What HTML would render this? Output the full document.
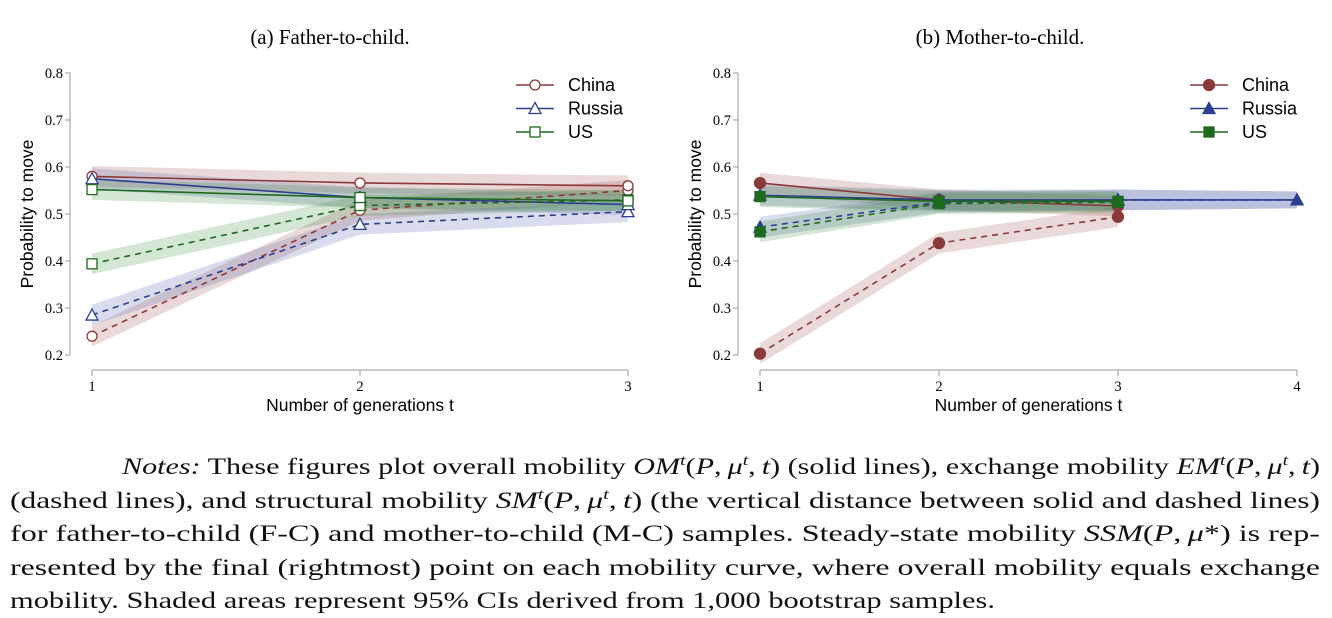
<!DOCTYPE html>
<html><head><meta charset="utf-8">
<style>
body{margin:0;width:1332px;height:616px;background:#fff;overflow:hidden;position:relative;font-family:"Liberation Serif",serif}
#notes{position:absolute;left:10px;top:450px;width:1310px;font-size:23px;color:#111}
#notes .ln{height:33.5px;line-height:33.5px;white-space:nowrap;position:relative}
#notes .ln span.in{display:inline-block;transform-origin:0 50%;white-space:nowrap}
#notes i{font-style:italic}
#notes sup{font-size:15px;line-height:0;vertical-align:9px}
svg{position:absolute;left:0;top:0}
</style></head><body>
<svg id="chart" width="1332" height="440"></svg>
<div id="notes">
<div class="ln" data-x="112" data-w="1310"><span class="in"><i>Notes:</i> These figures plot overall mobility <i>OM<sup>t</sup></i>(<i>P</i>,&#8239;<i>μ<sup>t</sup></i>,&#8239;<i>t</i>) (solid lines), exchange mobility <i>EM<sup>t</sup></i>(<i>P</i>,&#8239;<i>μ<sup>t</sup></i>,&#8239;<i>t</i>)</span></div>
<div class="ln" data-x="0" data-w="1310"><span class="in">(dashed lines), and structural mobility <i>SM<sup>t</sup></i>(<i>P</i>,&#8239;<i>μ<sup>t</sup></i>,&#8239;<i>t</i>) (the vertical distance between solid and dashed lines)</span></div>
<div class="ln" data-x="0" data-w="1310"><span class="in">for father-to-child (F-C) and mother-to-child (M-C) samples. Steady-state mobility <i>SSM</i>(<i>P</i>,&#8239;<i>μ</i>*) is rep-</span></div>
<div class="ln" data-x="0" data-w="1310"><span class="in">resented by the final (rightmost) point on each mobility curve, where overall mobility equals exchange</span></div>
<div class="ln" data-x="0" data-w="985"><span class="in">mobility. Shaded areas represent 95% CIs derived from 1,000 bootstrap samples.</span></div>
</div>
<script>
document.querySelectorAll('#notes .ln').forEach(l=>{
  const s=l.querySelector('.in');const x=+l.dataset.x, w=+l.dataset.w;
  const nat=s.getBoundingClientRect().width;
  s.style.marginLeft=x+'px';
  s.style.transform='scaleX('+((w-x)/nat)+')';
});
const yTicks=[0.2,0.3,0.4,0.5,0.6,0.7,0.8];
const countries=["China","Russia","US"];
// Panel A: father-to-child
const fcGens=[1,2,3];
const fcChinaOM=[0.580,0.566,0.560], fcChinaEM=[0.240,0.508,0.550];
const fcRussiaOM=[0.575,0.535,0.520], fcRussiaEM=[0.285,0.478,0.505];
const fcUSOM=[0.552,0.535,0.528], fcUSEM=[0.394,0.518,0.530];
// Panel B: mother-to-child
const mcGensChina=[1,2,3], mcGensRussia=[1,2,3,4], mcGensUS=[1,2,3];
const mcChinaOM=[0.566,0.530,0.517], mcChinaEM=[0.203,0.438,0.494];
const mcRussiaOM=[0.540,0.530,0.530,0.530], mcRussiaEM=[0.472,0.525,0.530,0.530];
const mcUSOM=[0.537,0.527,0.527], mcUSEM=[0.462,0.522,0.525];
const ciHalf=[0.022,0.022,0.022,0.018];

const colors={China:"#8b3a3a",Russia:"#2c3e8f",US:"#1e6b1e"};
const fills={China:"rgba(160,80,80,0.22)",Russia:"rgba(80,95,170,0.22)",US:"rgba(60,140,60,0.22)"};
const svg=document.getElementById('chart');
const NS="http://www.w3.org/2000/svg";
function mk(tag,attrs,parent){const e=document.createElementNS(NS,tag);for(const k in attrs)e.setAttribute(k,attrs[k]);(parent||svg).appendChild(e);return e;}
const yS=v=>355-(v-0.2)*470;

function panel(p){
  const g=mk('g',{});
  
  
  const xS=t=>p.x1+(t-1)*p.dx;
  const tt=mk('text',{x:p.cx,y:44,'text-anchor':'middle','font-size':21,'font-family':'Liberation Serif, serif'},g);
  tt.textContent=p.title;
  
  
  mk('line',{x1:p.ax,y1:yS(0.8),x2:p.ax,y2:yS(0.2),stroke:'#999'},g);
  yTicks.forEach(v=>{mk('line',{x1:p.ax-5,y1:yS(v),x2:p.ax,y2:yS(v),stroke:'#999'},g);
    const t=mk('text',{x:p.ax-7,y:yS(v)+5,'text-anchor':'end','font-size':14.5,'font-family':'Liberation Serif, serif'},g);t.textContent=v.toFixed(1);
    
    });
  mk('line',{x1:xS(1),y1:370,x2:xS(p.maxT),y2:370,stroke:'#999'},g);
  for(let t=1;t<=p.maxT;t++){mk('line',{x1:xS(t),y1:370,x2:xS(t),y2:376,stroke:'#999'},g);
    const l=mk('text',{x:xS(t),y:391,'text-anchor':'middle','font-size':14.5,'font-family':'Liberation Serif, serif'},g);l.textContent=t;
    
    }
  const xt=mk('text',{x:(xS(1)+xS(p.maxT))/2,y:411,'text-anchor':'middle','font-size':17.5,'font-family':'Liberation Sans, sans-serif'},g);xt.textContent='Number of generations t';
  
  
  const yt=mk('text',{x:0,y:0,transform:`translate(${p.ax-37},214) rotate(-90)`,'text-anchor':'middle','font-size':17.5,'font-family':'Liberation Sans, sans-serif'},g);yt.textContent='Probability to move';
  
  
  p.series.forEach(s=>{
    [s.em,s.om].forEach((vals,k)=>{
      const up=vals.map((v,i)=>xS(s.gens[i])+','+yS(v+ciHalf[i])), dn=vals.map((v,i)=>xS(s.gens[i])+','+yS(v-ciHalf[i])).reverse();
      const band=mk('polygon',{points:up.concat(dn).join(' '),fill:fills[s.c],stroke:'none'},g);
      
      
    });
  });
  p.series.forEach(s=>{
    [[s.em,'6,5'],[s.om,'']].forEach(([vals,dash])=>{
      const ln=mk('polyline',{points:vals.map((v,i)=>xS(s.gens[i])+','+yS(v)).join(' '),fill:'none',stroke:colors[s.c],'stroke-width':1.6,'stroke-dasharray':dash},g);
      
      
      vals.forEach((v,i)=>{const m=marker(g,s.c,xS(s.gens[i]),yS(v),p.filled);
        
        });
    });
  });
  countries.forEach((c,i)=>{
    const y=p.ly+i*23.5;
    mk('line',{x1:p.lx,y1:y,x2:p.lx+38,y2:y,stroke:colors[c],'stroke-width':1.6},g);
    marker(g,c,p.lx+19,y,p.filled);
    const t=mk('text',{x:p.lx+52,y:y+6,'font-size':18,'font-family':'Liberation Sans, sans-serif'},g);t.textContent=c;
    
    
  });
}
function marker(g,c,x,y,filled){
  const col=colors[c],f=filled?col:'#fff';
  if(c==='China')return mk('circle',{cx:x,cy:y,r:filled?5.5:5,fill:f,stroke:col,'stroke-width':1.3},g);
  if(c==='Russia')return mk('polygon',{points:`${x},${y-6} ${x-6},${y+5} ${x+6},${y+5}`,fill:f,stroke:col,'stroke-width':1.3},g);
  return mk('rect',{x:x-5,y:y-5,width:10,height:10,fill:f,stroke:col,'stroke-width':1.3},g);
}
panel({name:'panel-father-to-child',title:'(a) Father-to-child.',cx:330,ax:70,x1:92,dx:268,maxT:3,filled:false,lx:516,ly:85,
  series:[{c:'China',gens:fcGens,om:fcChinaOM,em:fcChinaEM},{c:'Russia',gens:fcGens,om:fcRussiaOM,em:fcRussiaEM},{c:'US',gens:fcGens,om:fcUSOM,em:fcUSEM}]});
panel({name:'panel-mother-to-child',title:'(b) Mother-to-child.',cx:1000,ax:738,x1:760,dx:179,maxT:4,filled:true,lx:1190,ly:85,
  series:[{c:'China',gens:mcGensChina,om:mcChinaOM,em:mcChinaEM},{c:'Russia',gens:mcGensRussia,om:mcRussiaOM,em:mcRussiaEM},{c:'US',gens:mcGensUS,om:mcUSOM,em:mcUSEM}]});
</script>
</body></html>
